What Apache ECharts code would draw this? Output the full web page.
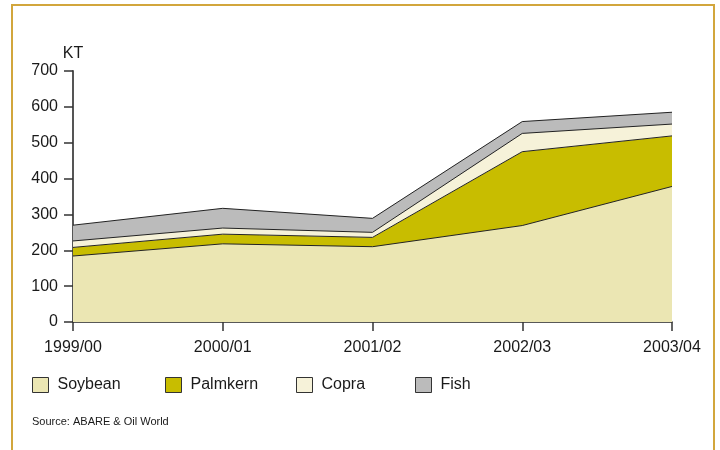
<!DOCTYPE html>
<html>
<head>
<meta charset="utf-8">
<style>
  html, body { margin: 0; padding: 0; background: #ffffff; }
  #chart { width: 720px; height: 450px; }
</style>
<script src="https://cdn.jsdelivr.net/npm/echarts@6/dist/echarts.min.js"></script>
</head>
<body>
<div id="chart"></div>
<script>
// Oilseed meal volumes, thousand tonnes (KT)
var seasons = ['1999/00', '2000/01', '2001/02', '2002/03', '2003/04'];
var soybean  = [184, 218, 210, 269, 378];
var palmkern = [24, 27, 26, 206, 141];
var copra    = [18, 17, 14, 51, 33];
var fish     = [44, 55, 39, 33, 33];
var yTicks   = [0, 100, 200, 300, 400, 500, 600, 700];

var FONT = '"Liberation Sans Narrow", "Arial Narrow", "Liberation Sans", Arial, sans-serif';
var INK = '#1a1a1a';

var seriesDefs = [
  { name: 'Soybean',  data: soybean,  color: '#ebe6b3' },
  { name: 'Palmkern', data: palmkern, color: '#c8bd00' },
  { name: 'Copra',    data: copra,    color: '#f6f2d9' },
  { name: 'Fish',     data: fish,     color: '#bbbbbb' }
];
var legendLeft = [32, 165, 296, 415];

var chart = echarts.init(document.getElementById('chart'), null, { renderer: 'canvas' });

chart.setOption({
  animation: false,
  backgroundColor: '#ffffff',
  textStyle: { fontFamily: FONT, color: INK },
  grid: { left: 73, right: 48, top: 71, bottom: 128 },
  legend: seriesDefs.map(function (s, i) {
    return {
      data: [s.name],
      left: legendLeft[i],
      top: 377,
      padding: 0,
      itemWidth: 16,
      itemHeight: 15,
      itemGap: 0,
      icon: 'rect',
      selectedMode: false,
      itemStyle: { borderColor: '#333333', borderWidth: 1 },
      textStyle: { fontFamily: FONT, fontSize: 16, color: INK, padding: [0, 0, 0, 4] }
    };
  }),
  xAxis: {
    type: 'category',
    data: seasons,
    boundaryGap: false,
    axisLine: { lineStyle: { color: '#222222', width: 1.5 } },
    axisTick: { show: true, length: 9, lineStyle: { color: '#333333', width: 1.5 } },
    axisLabel: { fontFamily: FONT, fontSize: 16, color: INK, margin: 18 },
    splitLine: { show: false }
  },
  yAxis: {
    type: 'value',
    min: yTicks[0],
    max: yTicks[yTicks.length - 1],
    interval: 100,
    name: 'KT',
    nameLocation: 'end',
    nameGap: 9,
    nameTextStyle: { fontFamily: FONT, fontSize: 16, color: INK, align: 'center' },
    axisLine: { show: true, lineStyle: { color: '#555555', width: 2 } },
    axisTick: { show: true, length: 9, lineStyle: { color: '#333333', width: 1.5 } },
    axisLabel: { fontFamily: FONT, fontSize: 16, color: INK, margin: 15 },
    splitLine: { show: false }
  },
  series: seriesDefs.map(function (s) {
    return {
      name: s.name,
      type: 'line',
      stack: 'meal',
      data: s.data,
      symbol: 'none',
      smooth: false,
      color: s.color,
      lineStyle: { color: '#222222', width: 1 },
      areaStyle: { color: s.color, opacity: 1 },
      itemStyle: { color: s.color, borderColor: '#333333', borderWidth: 1 },
      emphasis: { disabled: true }
    };
  }),
  graphic: [
    {
      type: 'rect',
      silent: true,
      shape: { x: 12, y: 5, width: 702, height: 470 },
      style: { fill: 'none', stroke: '#d2a63c', lineWidth: 2 },
      z: -1
    },
    {
      type: 'text',
      left: 32,
      top: 416,
      style: { text: 'Source: ABARE & Oil World', fontFamily: FONT, fontSize: 11, fill: INK }
    }
  ]
});
</script>
</body>
</html>
